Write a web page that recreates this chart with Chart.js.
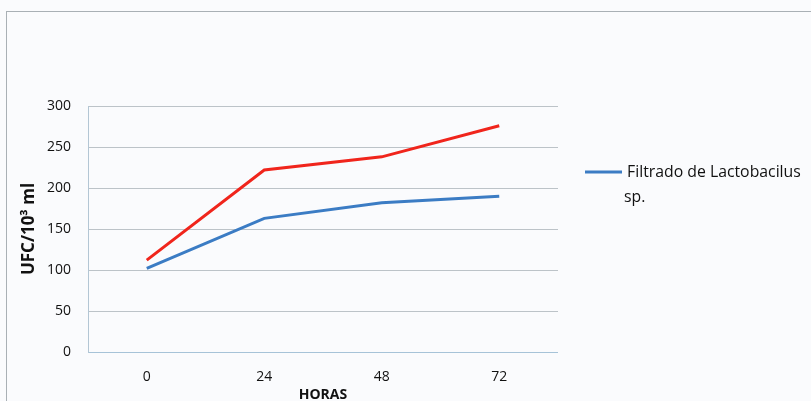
<!DOCTYPE html>
<html>
<head>
<meta charset="utf-8">
<script src="https://cdn.jsdelivr.net/npm/chart.js@4/dist/chart.umd.min.js"></script>
<style>
  html, body { margin: 0; padding: 0; background: #fafbfd; }
  canvas { display: block; }
</style>
</head>
<body>
<canvas id="c" width="811" height="401"></canvas>
<script>
// Horas de incubación (eje X)
const horas = ['0', '24', '48', '72'];
// UFC/10³ ml por serie
const filtrado = [102, 163, 182, 190];
const serieRoja = [112, 222, 238, 276];
// Etiqueta de la serie mostrada en la leyenda (en dos líneas)
const etiquetaFiltrado = ['Filtrado de Lactobacilus', 'sp.'];
const yTicks = [0, 50, 100, 150, 200, 250, 300];

const fuente = "'Open Sans', 'Liberation Sans', sans-serif";
const colorTexto = '#111111';

// Marco exterior del gráfico
const marco = {
  id: 'marco',
  beforeDraw(chart) {
    const ctx = chart.ctx;
    ctx.save();
    ctx.fillStyle = '#fafbfd';
    ctx.fillRect(0, 0, chart.width, chart.height);
    ctx.strokeStyle = '#a9b0b5';
    ctx.lineWidth = 1;
    ctx.strokeRect(6.5, 11.5, chart.width, chart.height);
    ctx.restore();
  }
};

// Leyenda a la derecha: solo la serie azul, con texto en dos líneas
const leyenda = {
  id: 'leyenda',
  afterDraw(chart) {
    const ds = chart.data.datasets[0];
    const ctx = chart.ctx;
    const x0 = chart.chartArea.right + 27;
    const y0 = 172;
    ctx.save();
    ctx.strokeStyle = ds.borderColor;
    ctx.lineWidth = 3;
    ctx.beginPath();
    ctx.moveTo(x0, y0);
    ctx.lineTo(x0 + 37, y0);
    ctx.stroke();
    ctx.fillStyle = colorTexto;
    ctx.font = '15.8px ' + fuente;
    ctx.textBaseline = 'middle';
    ctx.textAlign = 'left';
    ds.label.forEach((t, i) => {
      ctx.fillText(t, i === 0 ? x0 + 42 : x0 + 39, y0 + i * 25);
    });
    ctx.restore();
  }
};

new Chart(document.getElementById('c'), {
  type: 'line',
  data: {
    labels: horas,
    datasets: [
      {
        label: etiquetaFiltrado,
        data: filtrado,
        borderColor: '#3b7cc4',
        borderWidth: 3,
        pointRadius: 0,
        tension: 0,
        fill: false
      },
      {
        data: serieRoja,
        borderColor: '#f0251c',
        borderWidth: 3,
        pointRadius: 0,
        tension: 0,
        fill: false
      }
    ]
  },
  options: {
    responsive: false,
    animation: false,
    layout: { padding: { left: 0, top: 106, right: 253, bottom: 0 } },
    plugins: {
      legend: { display: false },
      tooltip: { enabled: false }
    },
    scales: {
      x: {
        offset: true,
        grid: { display: false, drawTicks: false },
        border: { display: false },
        ticks: { color: colorTexto, font: { family: fuente, size: 14 }, padding: 17 },
        title: {
          display: true,
          text: 'HORAS',
          color: colorTexto,
          font: { family: fuente, size: 14, weight: 'bold', lineHeight: 1 },
          padding: { top: 0, bottom: -1 }
        },
        afterFit(scale) { scale.height = 49; }
      },
      y: {
        min: 0,
        max: 300,
        afterBuildTicks(scale) { scale.ticks = yTicks.map(v => ({ value: v })); },
        grid: {
          drawTicks: false,
          color: ctx => (ctx.tick && ctx.tick.value === 0 ? '#a6c3d8' : '#bcc3c8'),
          lineWidth: 1
        },
        border: { display: true, color: '#b3c6d4' },
        ticks: { color: colorTexto, font: { family: fuente, size: 14 }, padding: 17 },
        title: {
          display: true,
          text: 'UFC/10³ ml',
          color: colorTexto,
          font: { family: fuente, size: 17, weight: 'bold', lineHeight: 1.2 },
          padding: { top: 19, bottom: 0 }
        },
        afterFit(scale) { scale.width = 88; }
      }
    }
  },
  plugins: [marco, leyenda]
});
</script>
</body>
</html>
